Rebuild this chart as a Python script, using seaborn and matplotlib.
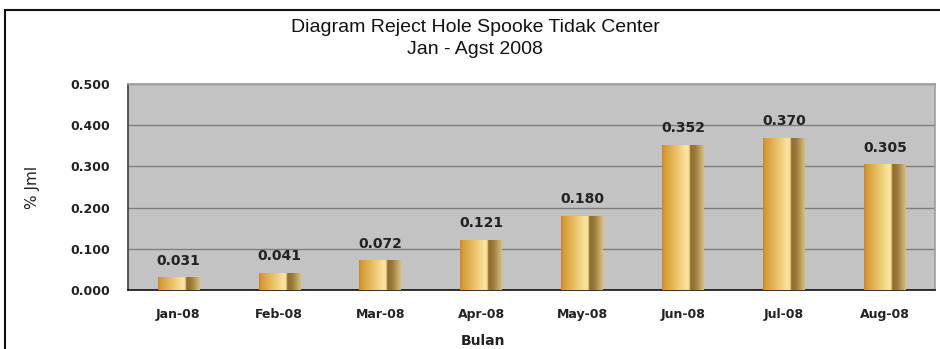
import numpy as np
import pandas as pd
import seaborn as sns
import matplotlib.pyplot as plt
from matplotlib.colors import LinearSegmentedColormap
from matplotlib.patches import Rectangle

# data
months = ['Jan-08', 'Feb-08', 'Mar-08', 'Apr-08', 'May-08', 'Jun-08', 'Jul-08', 'Aug-08']
values = [0.031, 0.041, 0.072, 0.121, 0.180, 0.352, 0.370, 0.305]
yticks = [0.0, 0.1, 0.2, 0.3, 0.4, 0.5]

df = pd.DataFrame({'Bulan': months, 'Jml': values})

sns.set_theme(style='white')
plt.rcParams['font.family'] = ['DejaVu Sans']

fig = plt.figure(figsize=(9.4, 3.49), dpi=100)
ax = fig.add_axes([0.136, 0.169, 0.859, 0.590])
ax.set_facecolor('#C3C3C3')

sns.barplot(x='Bulan', y='Jml', data=df, width=0.41, color='#E0B860',
            saturation=1, ax=ax, zorder=3)

# golden cylinder shading on each bar
gold = LinearSegmentedColormap.from_list('gold', [
    (0.00, '#E07C10'), (0.05, '#D49A35'), (0.35, '#EAC46A'),
    (0.60, '#FBE6A4'), (0.66, '#F0D890'), (0.67, '#8C6A28'),
    (0.80, '#9C7C3A'), (1.00, '#D8C088')])
grad = np.linspace(0, 1, 256).reshape(1, -1)
for p in ax.patches:
    x0, y0 = p.get_x(), p.get_y()
    w, h = p.get_width(), p.get_height()
    im = ax.imshow(grad, cmap=gold, aspect='auto', extent=[x0, x0 + w, y0, y0 + h],
                   zorder=4, interpolation='bicubic')
    im.set_clip_path(p)
    p.set_edgecolor('none')

ax.set_xlim(-0.5, len(months) - 0.5)
ax.set_ylim(0, 0.5)
ax.set_yticks(yticks)
ax.set_yticklabels([f'{t:.3f}' for t in yticks], fontsize=9, fontweight='bold')
ax.set_xticks(range(len(months)))
ax.set_xticklabels(months, fontsize=9, fontweight='bold')
ax.tick_params(axis='both', length=0, colors='#222222')
ax.tick_params(axis='y', pad=13)
ax.tick_params(axis='x', pad=13)
ax.yaxis.grid(True, color='#7F7F7F', lw=1, zorder=1)
ax.set_axisbelow(True)

for i, v in enumerate(values):
    ax.annotate(f'{v:.3f}', (i, v), xytext=(0, 7), textcoords='offset points',
                ha='center', va='bottom', fontsize=10, fontweight='bold',
                color='#222222', zorder=6)

ax.spines['bottom'].set_color('#111111')
ax.spines['bottom'].set_linewidth(1.2)
ax.spines['left'].set_color('#444444')
ax.spines['top'].set_color('#A0A0A0')
ax.spines['right'].set_color('#A0A0A0')

ax.set_ylabel('% Jml', fontsize=11, color='#222222')
ax.yaxis.set_label_coords(-0.109, 0.5)
ax.set_xlabel('Bulan', fontsize=10, fontweight='bold', color='#222222')
ax.xaxis.set_label_coords(0.44, -0.215)

title_font = ['Liberation Sans', 'DejaVu Sans']
fig.text(475 / 940, 1 - 28 / 349, 'Diagram Reject Hole Spooke Tidak Center',
         ha='center', va='center', fontsize=14, family=title_font, color='#111111')
fig.text(475 / 940, 1 - 50 / 349, 'Jan - Agst 2008',
         ha='center', va='center', fontsize=14, family=title_font, color='#111111')

# outer chart frame
fig.patches.append(Rectangle((5 / 940, -0.1), 1.2, 1.1 - 10 / 349,
                             transform=fig.transFigure, fill=False,
                             edgecolor='#111111', lw=1.5))

fig.savefig('out.png', dpi=100)
